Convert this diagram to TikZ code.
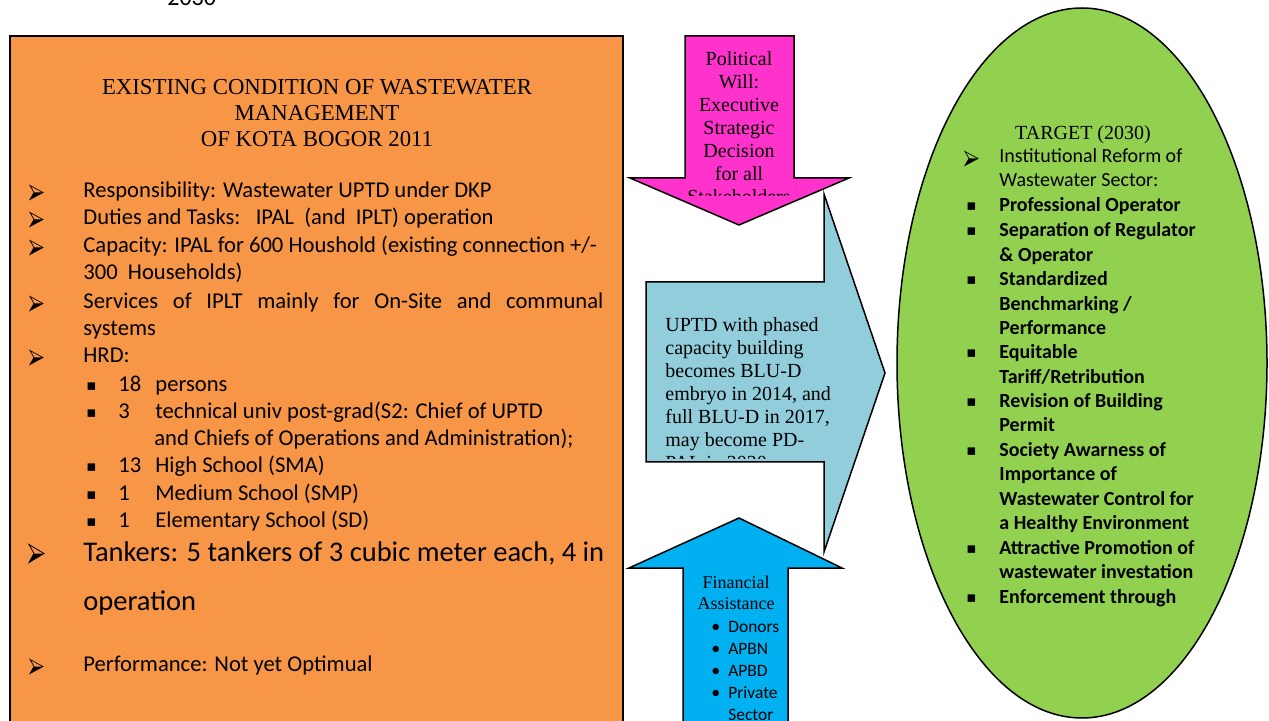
\documentclass[tikz,border=0pt]{standalone}
\usepackage{fontspec}
\setmainfont{Liberation Serif}
\newfontfamily\calibri{Carlito}
\newfontfamily\symf{DejaVu Sans}
\definecolor{boxorange}{HTML}{F79646}
\definecolor{willpink}{HTML}{FF33CC}
\definecolor{uptdblue}{HTML}{92CDDC}
\definecolor{fundcyan}{HTML}{00B0F0}
\definecolor{targetgreen}{HTML}{92D050}
\begin{document}
\begin{tikzpicture}[x=0.5pt,y=-0.5pt,
  every node/.append style={yshift=-1.25pt},
  base/.style={anchor=base west,inner sep=0pt},
  body/.style={base,font=\calibri\fontsize{11.3}{13}\selectfont},
  big/.style={base,font=\calibri\fontsize{14.25}{16}\selectfont},
  head/.style={anchor=base,inner sep=0pt,font=\fontsize{11.4}{13}\selectfont},
  arr/.style={base,font=\fontsize{10}{12}\selectfont},
  arrc/.style={anchor=base,inner sep=0pt,font=\fontsize{10}{12}\selectfont},
  fin/.style={anchor=base,inner sep=0pt,font=\fontsize{9}{11}\selectfont},
  finb/.style={base,font=\calibri\fontsize{8.7}{10}\selectfont},
  tgt/.style={base,font=\calibri\fontsize{10}{12}\selectfont},
  tgtb/.style={base,font=\calibri\bfseries\fontsize{10}{12}\selectfont},
  square/.style={base,font=\symf\fontsize{7.5}{10}\selectfont},
  dot/.style={base,font=\calibri\fontsize{9}{10}\selectfont},
  outlined/.style={draw=black,line width=0.75pt,line join=miter},
  % arrowhead list marker: outlined dart with a dark lower half
  pics/ptr/.style={code={
    \draw[line width=0.35pt,line join=miter] (0,-7) -- (13,0) -- (0,7) -- (4,0) -- cycle;
    \fill (4,0) -- (13,0) -- (0,7) -- cycle;}},
  pics/bigptr/.style={code={
    \draw[line width=0.4pt,line join=miter] (0,-9) -- (15,0) -- (0,9) -- (5,0) -- cycle;
    \fill (5,0) -- (15,0) -- (0,9) -- cycle;}}]
\useasboundingbox (0,0) rectangle (1269,721);
\clip (0,0) rectangle (1269,721);

% year caption above the page area
\node[base,font=\calibri\fontsize{12}{14}\selectfont] (year) at (167,3) {2030};

% ---------- existing condition box ----------
\draw[fill=boxorange,draw=black,line width=1pt] (10,36) rectangle (623,740);
\node[head] (t1) at (317,92) {EXISTING CONDITION OF WASTEWATER};
\node[head] (t2) at (317,118) {MANAGEMENT};
\node[head] (t3) at (317,144) {OF KOTA BOGOR 2011};

\pic at (30,190) {ptr};
\node[body] (l1) at (83,195) {Responsibility: Wastewater UPTD under DKP};
\pic at (30,217) {ptr};
\node[body] (l2) at (83,222) {Duties and Tasks:\ \ \ IPAL\ \ (and\ \ IPLT) operation};
\pic at (30,245) {ptr};
\node[body] (l3) at (83,250) {Capacity: IPAL for 600 Houshold (existing connection +/-};
\node[body] (l3b) at (83,277) {300\ \ Households)};
\pic at (30,301) {ptr};
\node[body] (l4) at (83,306) {\makebox[260pt][s]{Services of IPLT mainly for On-Site and communal}};
\node[body] (l4b) at (83,333) {systems};
\pic at (30,355) {ptr};
\node[body] (l5) at (83,360) {HRD:};

\node[square] (s1) at (86,388) {▪};
\node[body] (h1) at (118,389) {\makebox[18.5pt][l]{18}persons};
\node[square] (s2) at (86,415) {▪};
\node[body] (h2) at (118,416) {\makebox[18.5pt][l]{3}technical univ post-grad(S2: Chief of UPTD};
\node[body] (h2b) at (154,443) {and Chiefs of Operations and Administration);};
\node[square] (s3) at (86,469) {▪};
\node[body] (h3) at (118,470) {\makebox[18.5pt][l]{13}High School (SMA)};
\node[square] (s4) at (86,497) {▪};
\node[body] (h4) at (118,498) {\makebox[18.5pt][l]{1}Medium School (SMP)};
\node[square] (s5) at (86,524) {▪};
\node[body] (h5) at (118,525) {\makebox[18.5pt][l]{1}Elementary School (SD)};

\pic at (29,551) {bigptr};
\node[big] (l6) at (83,559) {Tankers: 5 tankers of 3 cubic meter each, 4 in};
\node[big] (l6b) at (83,608) {operation};
\pic at (30,664) {ptr};
\node[body] (l7) at (83,669) {Performance: Not yet Optimual};

% ---------- UPTD arrow pointing to the target ----------
\draw[outlined,fill=uptdblue] (646,282) -- (824,282) -- (824,194) -- (885,373)
  -- (824,552) -- (824,462) -- (646,462) -- cycle;
\begin{scope}
  \clip (647,283) rectangle (870,459);
  \node[arr] (u1) at (665,329) {UPTD with phased};
  \node[arr] (u2) at (665,352) {capacity building};
  \node[arr] (u3) at (665,375) {becomes BLU-D};
  \node[arr] (u4) at (665,398) {embryo in 2014, and};
  \node[arr] (u5) at (665,421) {full BLU-D in 2017,};
  \node[arr] (u6) at (665,444) {may become PD-};
  \node[arr] (u7) at (665,467) {PAL in 2020};
\end{scope}

% ---------- financial assistance arrow (upwards) ----------
\draw[outlined,fill=fundcyan] (739,518) -- (842,568) -- (788,568) -- (788,740)
  -- (683,740) -- (683,568) -- (629,568) -- cycle;
\node[fin] (f1) at (736,586) {Financial};
\node[fin] (f2) at (736,607) {Assistance};
\node[dot] (d1) at (711,630) {•};
\node[finb] (b1) at (728,630) {Donors};
\node[dot] (d2) at (711,652) {•};
\node[finb] (b2) at (728,652) {APBN};
\node[dot] (d3) at (711,674) {•};
\node[finb] (b3) at (728,674) {APBD};
\node[dot] (d4) at (711,696) {•};
\node[finb] (b4) at (728,696) {Private};
\node[finb] (b5) at (728,718) {Sector};

% ---------- political will arrow (downwards) ----------
\draw[outlined,fill=willpink] (685,36) -- (794,36) -- (794,178) -- (849,178)
  -- (739,225) -- (630,178) -- (685,178) -- cycle;
\begin{scope}
  \clip (686,37) rectangle (793,196);
  \node[arrc] (w1) at (739,63) {Political};
  \node[arrc] (w2) at (739,86) {Will:};
  \node[arrc] (w3) at (739,109) {Executive};
  \node[arrc] (w4) at (739,132) {Strategic};
  \node[arrc] (w5) at (739,155) {Decision};
  \node[arrc] (w6) at (739,178) {for all};
  \node[arrc] (w7) at (739,201) {Stakeholders};
\end{scope}

% ---------- target ellipse ----------
\draw[outlined,fill=targetgreen] (1082,363) ellipse [x radius=92.5pt, y radius=177.5pt];
\node[arrc] (g0) at (1083,137) {TARGET (2030)};
\pic at (965,156) {ptr};
\node[tgt] (g1) at (999,160) {Institutional Reform of};
\node[tgt] (g1b) at (999,184) {Wastewater Sector:};
\node[square] (q1) at (966,208) {▪};
\node[tgtb] (g2) at (999,209) {Professional Operator};
\node[square] (q2) at (966,233) {▪};
\node[tgtb] (g3) at (999,234) {Separation of Regulator};
\node[tgtb] (g3b) at (999,259) {\& Operator};
\node[square] (q3) at (966,282) {▪};
\node[tgtb] (g4) at (999,283) {Standardized};
\node[tgtb] (g4b) at (999,308) {Benchmarking /};
\node[tgtb] (g4c) at (999,332) {Performance};
\node[square] (q4) at (966,355) {▪};
\node[tgtb] (g5) at (999,356) {Equitable};
\node[tgtb] (g5b) at (999,381) {Tariff/Retribution};
\node[square] (q5) at (966,404) {▪};
\node[tgtb] (g6) at (999,405) {Revision of Building};
\node[tgtb] (g6b) at (999,429) {Permit};
\node[square] (q6) at (966,453) {▪};
\node[tgtb] (g7) at (999,454) {Society Awarness of};
\node[tgtb] (g7b) at (999,478) {Importance of};
\node[tgtb] (g7c) at (999,503) {Wastewater Control for};
\node[tgtb] (g7d) at (999,527) {a Healthy Environment};
\node[square] (q7) at (966,551) {▪};
\node[tgtb] (g8) at (999,552) {Attractive Promotion of};
\node[tgtb] (g8b) at (999,576) {wastewater investation};
\node[square] (q8) at (966,600) {▪};
\node[tgtb] (g9) at (999,601) {Enforcement through};
\end{tikzpicture}
\end{document}
